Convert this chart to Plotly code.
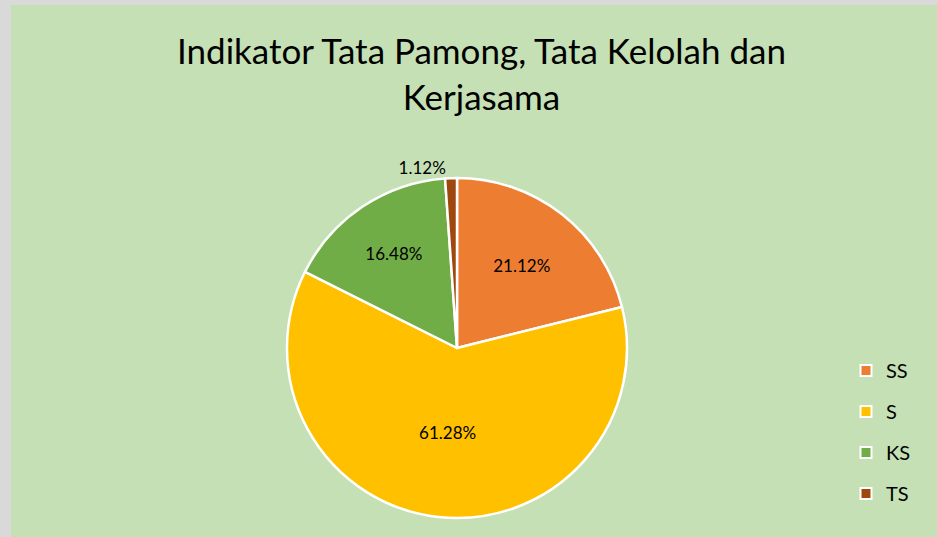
import plotly.graph_objects as go

categories = ["SS", "S", "KS", "TS"]
values = [21.12, 61.28, 16.48, 1.12]
colors = ["#ED7D31", "#FFC000", "#70AD47", "#9E480E"]
title_text = "Indikator Tata Pamong, Tata Kelolah dan<br>Kerjasama"

W, H = 937, 537
cx, cy, r = 457, 348, 170

fig = go.Figure()
fig.add_trace(go.Pie(
    labels=categories, values=values, sort=False, direction="clockwise", rotation=0,
    marker=dict(colors=colors, line=dict(color="white", width=2.5)),
    texttemplate="%{value:.2f}%", textposition=["inside", "inside", "inside", "outside"],
    insidetextorientation="horizontal",
    textfont=dict(family="Lato", size=17, color="#000000"),
    showlegend=False,
    domain=dict(x=[(cx - r) / W, (cx + r) / W], y=[(H - cy - r) / H, (H - cy + r) / H]),
))
for c, col in zip(categories, colors):
    fig.add_trace(go.Scatter(
        x=[None], y=[None], mode="markers", name=c, legendgroup=c,
        marker=dict(symbol="square", size=11, color=col, line=dict(color="white", width=2)),
    ))

fig.update_layout(
    width=W, height=H, margin=dict(l=0, r=0, t=0, b=0),
    paper_bgcolor="#D9D9D9", plot_bgcolor="rgba(0,0,0,0)",
    xaxis=dict(visible=False), yaxis=dict(visible=False),
    annotations=[dict(text=title_text, x=481 / W, xref="paper", yref="paper", xanchor="center",
                      y=1 - 27 / H, yanchor="top", showarrow=False,
                      font=dict(family="Lato", size=35, color="#000000"))],
    legend=dict(x=846 / W, y=1 - 351 / H, xanchor="left", yanchor="top",
                font=dict(family="Lato", size=20, color="#000000"),
                tracegroupgap=12, bgcolor="rgba(0,0,0,0)", itemwidth=30),
    shapes=[dict(type="rect", xref="paper", yref="paper", x0=11 / W, x1=1.01, y0=-0.01, y1=1 - 5 / H,
                 fillcolor="#C5E0B4", line=dict(width=0), layer="below")],
)
fig.write_html("out.html", config={"displayModeBar": False},
               post_script="document.body.style.margin='0px';")
